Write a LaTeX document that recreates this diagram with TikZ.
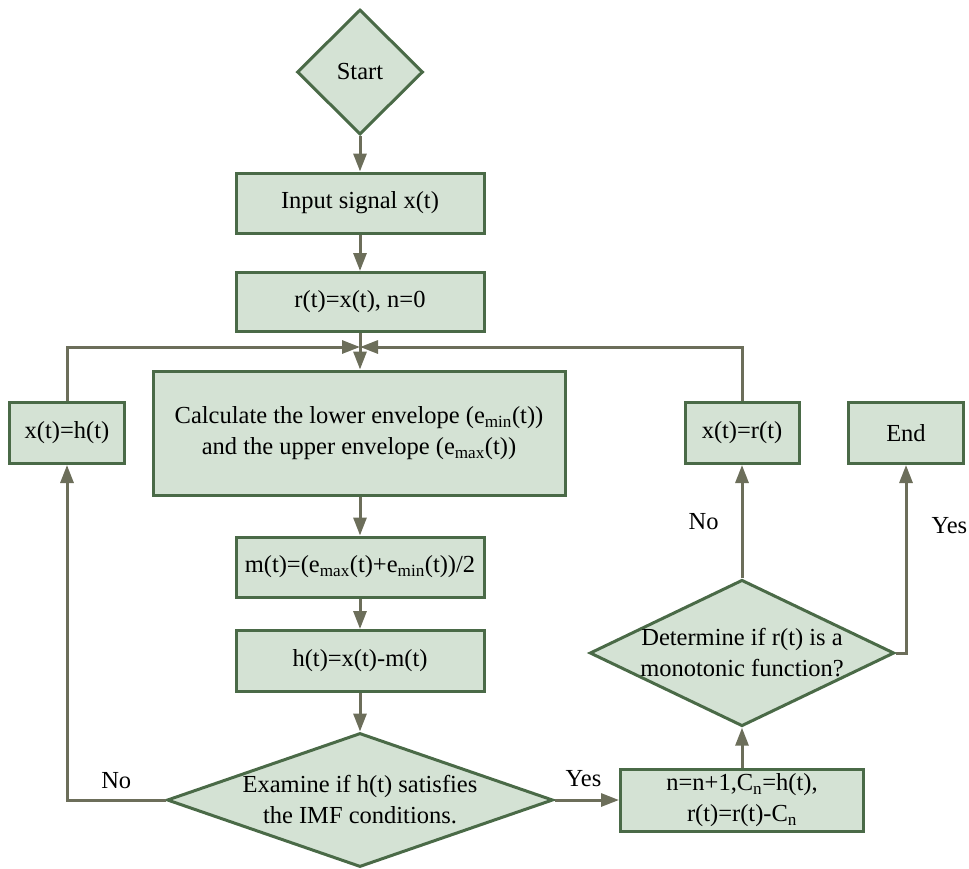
\documentclass[tikz,border=0pt]{standalone}
\usepackage{fontspec}
\setmainfont{Liberation Serif}
\usetikzlibrary{shapes.geometric,arrows.meta}
\definecolor{boxfill}{HTML}{D4E2D4}
\definecolor{boxline}{HTML}{4A6A47}
\definecolor{conn}{HTML}{6C6E5A}
\begin{document}
\begin{tikzpicture}[x=1pt,y=-1pt,
  every node/.style={font=\fontsize{24.5}{31}\selectfont},
  procbox/.style={draw=boxline,fill=boxfill,line width=3pt,rectangle,inner sep=0pt,align=center},
  decision/.style={draw=boxline,fill=boxfill,line width=3pt,diamond,inner sep=0pt,align=center},
  flow/.style={draw=conn,line width=3pt,-{Triangle[length=18pt,width=13pt]}},
  lbl/.style={inner sep=0pt}]
\useasboundingbox (0,0) rectangle (969,868);
\node[decision,shape aspect=1,minimum width=126pt,minimum height=125pt] (start) at (360,72) {Start};
\node[procbox,minimum width=248pt,minimum height=60pt] (input) at (360,203) {Input signal x(t)};
\node[procbox,minimum width=248pt,minimum height=59pt] (init) at (360,302) {r(t)=x(t), n=0};
\coordinate (j) at (360,347);
\node[procbox,minimum width=412pt,minimum height=124pt] (calc) at (359,433) {Calculate the lower envelope (e\textsubscript{min}(t))\\and the upper envelope (e\textsubscript{max}(t))};
\node[procbox,minimum width=248pt,minimum height=60pt] (mean) at (360,567) {m(t)=(e\textsubscript{max}(t)+e\textsubscript{min}(t))/2};
\node[procbox,minimum width=248pt,minimum height=61pt] (h) at (360,661) {h(t)=x(t)-m(t)};
\node[decision,shape aspect=2.88,minimum width=386pt,minimum height=134pt] (imf) at (360,800) {Examine if h(t) satisfies\\the IMF conditions.};
\node[procbox,minimum width=115pt,minimum height=61pt] (xh) at (67,433) {x(t)=h(t)};
\node[procbox,minimum width=114pt,minimum height=61pt] (xr) at (742,433) {x(t)=r(t)};
\node[procbox,minimum width=115pt,minimum height=61pt] (end) at (906,433) {End};
\node[decision,shape aspect=2.08,minimum width=300pt,minimum height=144pt] (mono) at (742,653) {Determine if r(t) is a\\monotonic function?};
\node[procbox,minimum width=243pt,minimum height=62pt] (upd) at (742,800) {n=n+1,C\textsubscript{n}=h(t),\\r(t)=r(t)-C\textsubscript{n}};
% connectors
\draw[flow] (start) -- (input);
\draw[flow] (input) -- (init);
\draw[flow] (init) -- (calc.north -| init.south);
\draw[flow] (calc.south -| mean.north) -- (mean);
\draw[flow] (mean) -- (h);
\draw[flow] (h) -- (imf.north);
\draw[flow] (imf.west) -| node[lbl,pos=0.25,above=10pt] {No} (xh.south);
\draw[flow] (xh.north) |- (j);
\draw[flow] (imf.east) -- node[lbl,pos=0.45,above=12pt] {Yes} (upd.west);
\draw[flow] (upd.north) -- (mono.south);
\draw[flow] (mono.north) -- node[lbl,pos=0.5,left=22pt] {No} (xr.south);
\draw[flow] (mono.east) -| node[lbl,pos=0.84,right=24pt] {Yes} (end.south);
\draw[flow] (xr.north) |- (j);
\end{tikzpicture}
\end{document}
